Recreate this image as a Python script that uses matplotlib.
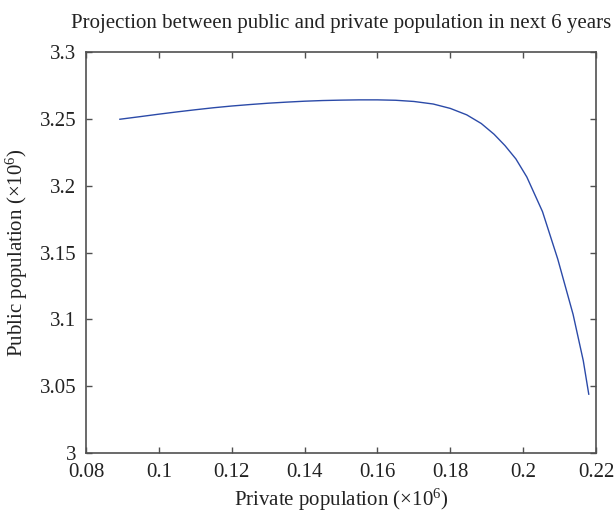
import matplotlib
matplotlib.use("Agg")
import matplotlib.pyplot as plt

plt.rcParams['font.family'] = ['Liberation Serif', 'DejaVu Serif']
plt.rcParams['mathtext.fontset'] = 'custom'
plt.rcParams['mathtext.rm'] = 'Liberation Serif'
plt.rcParams['mathtext.it'] = 'Liberation Serif:italic'

# private vs public population over the projection period
private_pop = [0.0893, 0.095, 0.100, 0.105, 0.110, 0.115, 0.120, 0.125,
               0.130, 0.135, 0.140, 0.145, 0.150, 0.155, 0.160, 0.165,
               0.170, 0.1753, 0.180, 0.1845, 0.1885, 0.1920, 0.1950,
               0.1980, 0.2010, 0.2053, 0.2095, 0.2137, 0.2165, 0.2180]
public_pop = [3.2497, 3.2517, 3.2535, 3.2552, 3.2568, 3.2583, 3.2596, 3.2607,
              3.2617, 3.2625, 3.2632, 3.2637, 3.2640, 3.2642, 3.2642, 3.2639,
              3.2630, 3.2611, 3.2578, 3.2530, 3.2465, 3.2385, 3.2300,
              3.2200, 3.2065, 3.1806, 3.1450, 3.1037, 3.0690, 3.0440]

xticks = [0.08, 0.1, 0.12, 0.14, 0.16, 0.18, 0.2, 0.22]
xtick_labels = ['0.08', '0.1', '0.12', '0.14', '0.16', '0.18', '0.2', '0.22']
yticks = [3.0, 3.05, 3.1, 3.15, 3.2, 3.25, 3.3]
ytick_labels = ['3', '3.05', '3.1', '3.15', '3.2', '3.25', '3.3']

fig = plt.figure(figsize=(6.16, 5.15), dpi=100)
ax = fig.add_axes([0.1396, 0.1204, 0.828, 0.7786])

ax.plot(private_pop, public_pop, color='#2b4aa8', lw=1.0)

ax.set_xlim(0.08, 0.22)
ax.set_ylim(3.0, 3.3)
ax.set_xticks(xticks)
ax.set_xticklabels(xtick_labels)
ax.set_yticks(yticks)
ax.set_yticklabels(ytick_labels)

edge = '#505050'
for s in ax.spines.values():
    s.set_color(edge)
    s.set_linewidth(1.2)
ax.tick_params(direction='in', length=4, width=1.0, color=edge,
               top=True, right=True, labelsize=15, labelcolor='#222222')
ax.tick_params(axis='x', pad=7)
ax.tick_params(axis='y', pad=7)

ax.set_title('Projection between public and private population in next 6 years',
             fontsize=15, pad=17, color='#222222')
ax.set_xlabel(r'Private population (×10$^{6}$)', fontsize=15, labelpad=4,
              color='#222222')
ax.set_ylabel(r'Public population (×10$^{6}$)', fontsize=15, labelpad=7,
              color='#222222')

fig.savefig('out.png', dpi=100)
